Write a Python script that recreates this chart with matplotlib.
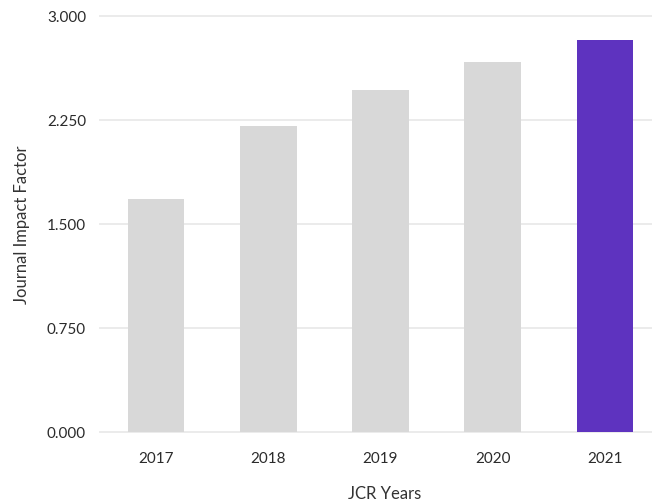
import matplotlib.pyplot as plt

plt.rcParams['font.family'] = ['Lato', 'DejaVu Sans']

# JCR impact factor by year
years = ['2017', '2018', '2019', '2020', '2021']
impact = [1.683, 2.210, 2.470, 2.672, 2.830]
bar_colors = ['#d8d8d8', '#d8d8d8', '#d8d8d8', '#d8d8d8', '#5e33bf']
yticks = [0.0, 0.75, 1.5, 2.25, 3.0]

fig = plt.figure(figsize=(6.52, 5.04), dpi=100)
ax = fig.add_axes([100 / 652, 71.7 / 504, 552 / 652, 415.8 / 504])

x = list(range(len(years)))
ax.bar(x, impact, width=0.505, color=bar_colors, zorder=2)

ax.set_xlim(-0.5, 4.42)
ax.set_ylim(0, 3.0)
ax.set_xticks(x)
ax.set_xticklabels(years)
ax.set_yticks(yticks)
ax.set_yticklabels([f'{v:.3f}' for v in yticks])

for v in yticks:
    ax.axhline(v, color='#ebebeb', linewidth=1.4, zorder=1, clip_on=False)

for s in ax.spines.values():
    s.set_visible(False)

ax.tick_params(axis='both', length=0, labelsize=11, colors='#2b2b2b')
ax.tick_params(axis='x', pad=14)
ax.tick_params(axis='y', pad=10)

ax.set_xlabel('JCR Years', fontsize=12, color='#333333')
ax.set_ylabel('Journal Impact Factor', fontsize=12, color='#333333')
ax.xaxis.set_label_coords(0.516, -0.128)
ax.yaxis.set_label_coords(-0.126, 0.5)

fig.savefig('out.png', dpi=100)
